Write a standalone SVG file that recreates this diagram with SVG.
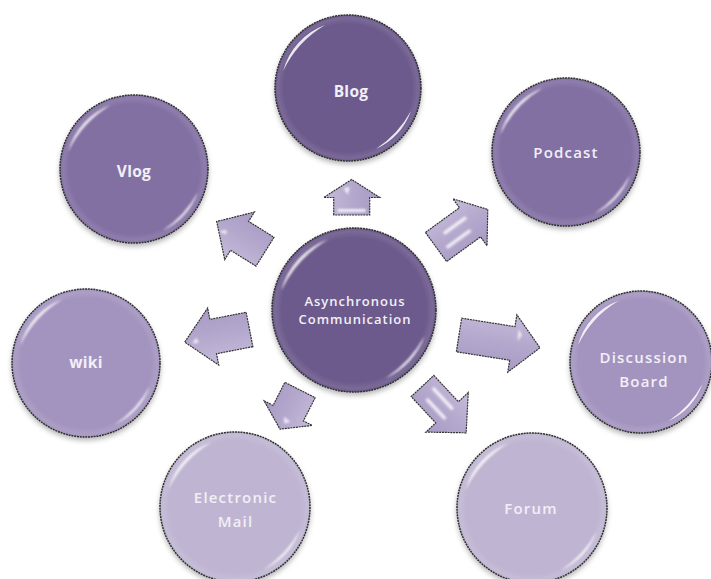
<svg xmlns="http://www.w3.org/2000/svg" xmlns:xlink="http://www.w3.org/1999/xlink" width="711" height="579" viewBox="0 0 711 579">
<defs>
  <filter id="shadow" x="-20%" y="-20%" width="140%" height="150%">
    <feDropShadow dx="0" dy="3" stdDeviation="2.5" flood-color="#000" flood-opacity="0.28"/>
  </filter>
  <filter id="soft" x="-50%" y="-50%" width="200%" height="200%">
    <feGaussianBlur stdDeviation="0.8"/>
  </filter>
  <radialGradient id="rim" cx="0.5" cy="0.5" r="0.5">
    <stop offset="0.88" stop-color="#fff" stop-opacity="0"/>
    <stop offset="0.96" stop-color="#fff" stop-opacity="0.1"/>
    <stop offset="1" stop-color="#fff" stop-opacity="0"/>
  </radialGradient>
  <linearGradient id="arrowFill" x1="0" y1="0" x2="0" y2="1">
    <stop offset="0" stop-color="#c6bcda"/>
    <stop offset="0.5" stop-color="#b4a8cd"/>
    <stop offset="1" stop-color="#a99bc5"/>
  </linearGradient>
  <g id="gloss">
    <path d="M-65.7,-17.6 A68,68 0 0 1 -23.3,-63.9 A110,110 0 0 0 -65.7,-17.6 Z" fill="#fff" opacity="0.85" filter="url(#soft)"/>
    <path d="M63.9,23.3 A68,68 0 0 1 28.7,61.6 A110,110 0 0 0 63.9,23.3 Z" fill="#fff" opacity="0.85" filter="url(#soft)"/>
    <circle r="74" fill="url(#rim)"/>
  </g>
  <style>
    .bubble { stroke: #2f2f2f; stroke-width: 1.5; stroke-dasharray: 2 0.8; filter: url(#shadow); }
    .c1 { fill: #6c5a8c; }
    .c2 { fill: #8270a3; }
    .c3 { fill: #a394bf; }
    .c4 { fill: #bfb5d2; }
    .lbl { font-family: "Open Sans", "DejaVu Sans", sans-serif; fill: #f2eff7; text-anchor: middle; font-size: 15px; font-weight: 600; letter-spacing: 1.2px; }
    .b { font-weight: bold; font-size: 15.5px; letter-spacing: 0.3px; }
    .sm { font-size: 13px; letter-spacing: 1px; }
    .arrow { fill: url(#arrowFill); stroke: #333; stroke-width: 1.2; stroke-dasharray: 2 0.8; }
    .hl { fill: #fff; opacity: 0.8; filter: url(#soft); }
  </style>
</defs>
<rect width="711" height="579" fill="#fff"/>

<g id="connectors">
  <g id="arrow-blog" transform="translate(351.7,215) rotate(-90)">
    <path class="arrow" d="M0,-18 H17.5 V-28 L35.5,0 L17.5,28 V18 H0 Z"/>
    <path class="hl" d="M20,-4 L27,-8 L28,-2 Z"/>
    <rect class="hl" x="3" y="-14" width="3" height="28"/>
  </g>
  <g id="arrow-vlog" transform="translate(265,251.7) rotate(212)">
    <path class="arrow" d="M0,-17 H30 V-28 L57,0 L30,28 V17 H0 Z"/>
    <path class="hl" d="M42,-6 L50,-7 L44,-2 Z"/>
  </g>
  <g id="arrow-podcast" transform="translate(436,247) rotate(-36)">
    <path class="arrow" d="M0,-18 H42 V-29 L64,0 L42,29 V18 H0 Z"/>
    <rect class="hl" x="14" y="-8" width="28" height="3.5" rx="1.5"/>
    <rect class="hl" x="8" y="5" width="30" height="3.5" rx="1.5"/>
  </g>
  <g id="arrow-wiki" transform="translate(249.5,329.5) rotate(169)">
    <path class="arrow" d="M0,-17.5 H37 V-29 L66,0 L37,29 V17.5 H0 Z"/>
    <path class="hl" d="M52,-3 L59,-3 L54,2 Z"/>
  </g>
  <g id="arrow-discussion" transform="translate(459,335) rotate(9)">
    <path class="arrow" d="M0,-17 H54 V-29 L82,0 L54,29 V17 H0 Z"/>
    <path class="hl" d="M58,-15 L62,-10 L59,-3 Z"/>
  </g>
  <g id="arrow-email" transform="translate(300,390) rotate(117)">
    <path class="arrow" d="M0,-17 H26 V-27 L44,0 L26,27 V17 H0 Z"/>
    <path class="hl" d="M33,-6 L37,-1 L31,2 Z"/>
  </g>
  <g id="arrow-forum" transform="translate(422.5,386) rotate(47)">
    <path class="arrow" d="M0,-15.5 H36 V-29 L64,0 L36,29 V15.5 H0 Z"/>
    <rect class="hl" x="8" y="-8" width="30" height="3.5" rx="1.5"/>
    <rect class="hl" x="12" y="4" width="28" height="3.5" rx="1.5"/>
  </g>
</g>

<g id="node-blog">
  <circle class="bubble c1" cx="348" cy="88" r="73"/>
  <use xlink:href="#gloss" transform="translate(348,88) scale(0.986)"/>
  <text class="lbl b" x="351" y="97">Blog</text>
</g>
<g id="node-vlog">
  <circle class="bubble c2" cx="134" cy="169" r="74"/>
  <use xlink:href="#gloss" transform="translate(134,169)"/>
  <text class="lbl b" x="134" y="177">Vlog</text>
</g>
<g id="node-podcast">
  <circle class="bubble c2" cx="566" cy="152" r="74"/>
  <use xlink:href="#gloss" transform="translate(566,152)"/>
  <text class="lbl" x="566" y="158">Podcast</text>
</g>
<g id="node-center">
  <circle class="bubble c1" cx="354" cy="310" r="82"/>
  <use xlink:href="#gloss" transform="translate(354,310) scale(1.108)"/>
  <text class="lbl sm" x="355" y="306">Asynchronous</text>
  <text class="lbl sm" x="355" y="324">Communication</text>
</g>
<g id="node-wiki">
  <circle class="bubble c3" cx="86" cy="363" r="74"/>
  <use xlink:href="#gloss" transform="translate(86,363)"/>
  <text class="lbl b" x="86" y="368">wiki</text>
</g>
<g id="node-discussion">
  <circle class="bubble c3" cx="641" cy="362" r="71"/>
  <use xlink:href="#gloss" transform="translate(641,362) scale(0.96)"/>
  <text class="lbl" x="644" y="363">Discussion</text>
  <text class="lbl" x="644" y="387">Board</text>
</g>
<g id="node-email">
  <circle class="bubble c4" cx="235" cy="507" r="75"/>
  <use xlink:href="#gloss" transform="translate(235,507) scale(1.013)"/>
  <text class="lbl" x="235.5" y="503">Electronic</text>
  <text class="lbl" x="235.5" y="527">Mail</text>
</g>
<g id="node-forum">
  <circle class="bubble c4" cx="532" cy="508" r="75"/>
  <use xlink:href="#gloss" transform="translate(532,508) scale(1.013)"/>
  <text class="lbl" x="531" y="514">Forum</text>
</g>
</svg>
